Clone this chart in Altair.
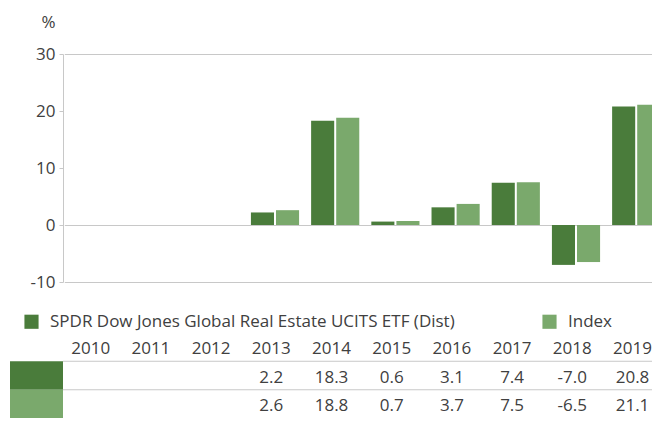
import altair as alt
import pandas as pd

years = ["2010", "2011", "2012", "2013", "2014", "2015", "2016", "2017", "2018", "2019"]
series = ["SPDR Dow Jones Global Real Estate UCITS ETF (Dist)", "Index"]
etf = [None, None, None, 2.2, 18.3, 0.6, 3.1, 7.4, -7.0, 20.8]
index = [None, None, None, 2.6, 18.8, 0.7, 3.7, 7.5, -6.5, 21.1]
y_ticks = [-10, 0, 10, 20, 30]
colors = ["#4a7c3b", "#7aa96c"]

FONT = "Open Sans"
FS = 17
TXT = "#404040"
GRID = "#c8c8c8"

rows = []
for s, vals in zip(series, [etf, index]):
    for yr, v in zip(years, vals):
        rows.append({"year": yr, "series": s, "value": v})
df = pd.DataFrame(rows)

trows = [{"row": "hdr", "year": yr, "label": yr} for yr in years]
for s, vals in zip(series, [etf, index]):
    for yr, v in zip(years, vals):
        trows.append({"row": s, "year": yr, "label": "" if v is None else f"{v:.1f}"})
tdf = pd.DataFrame(trows)
sw = pd.DataFrame({"row": series, "fill": colors})

color_scale = alt.Scale(domain=series, range=colors)
xscale = alt.Scale(domain=years, range=[1.3, 603.3], paddingInner=0.2, paddingOuter=0.1)
yscale_t = alt.Scale(domain=["hdr"] + series, range=[278.75, 364.25], paddingInner=0, paddingOuter=0)

bars = alt.Chart(df).mark_bar().encode(
    x=alt.X("year:N", sort=years, axis=None, scale=xscale),
    xOffset=alt.XOffset("series:N", sort=series,
                        scale=alt.Scale(domain=series, paddingInner=0.08)),
    y=alt.Y("value:Q", scale=alt.Scale(domain=[-10, 30], nice=False),
            axis=alt.Axis(values=y_ticks, title="%", titleAngle=0, titleAlign="right",
                          titleBaseline="alphabetic", titleX=-8, titleY=-27,
                          titleFont=FONT, titleFontSize=FS, titleFontWeight="normal",
                          titleColor=TXT, labelExpr="'' + datum.value",
                          labelFont=FONT, labelFontSize=FS, labelColor=TXT,
                          labelPadding=4, tickSize=4, tickColor=GRID,
                          domainColor=GRID, grid=True, gridColor=GRID,
                          gridOpacity={"condition": {"test": "datum.value === 10 || datum.value === 20",
                                                     "value": 0}, "value": 1})),
    color=alt.Color("series:N", scale=color_scale, sort=series,
                    legend=alt.Legend(orient="none", legendX=-40, legendY=259,
                                      direction="horizontal", title=None,
                                      symbolType="square", symbolSize=200,
                                      symbolStrokeWidth=0, labelFont=FONT,
                                      labelFontSize=FS, labelColor=TXT,
                                      labelLimit=700, columnPadding=86,
                                      labelOffset=10)),
)

texts = alt.Chart(tdf).mark_text(font=FONT, fontSize=FS, color=TXT, align="center",
                                 baseline="middle", dy=2, dx=-3.7).encode(
    x=alt.X("year:N", sort=years, axis=None),
    y=alt.Y("row:N", axis=None, scale=yscale_t),
    text="label:N",
)
lines = alt.Chart(sw).mark_rule(color=GRID, strokeWidth=1).encode(
    y=alt.Y("row:N", axis=None, scale=yscale_t, bandPosition=0),
)
swatches = alt.Chart(sw).mark_rect().encode(
    y=alt.Y("row:N", axis=None, scale=yscale_t),
    x=alt.value(-53), x2=alt.value(0),
    color=alt.Color("fill:N", scale=None),
)

chart = alt.layer(bars, swatches, lines, texts).resolve_scale(y="independent").properties(
    width=589, height=228,
    autosize=alt.AutoSizeParams(type="none"),
    padding={"left": 55, "top": 46, "right": 0, "bottom": 136},
).configure_view(strokeWidth=0)

chart.save("out.html", embed_options={"renderer": "svg", "actions": False})
